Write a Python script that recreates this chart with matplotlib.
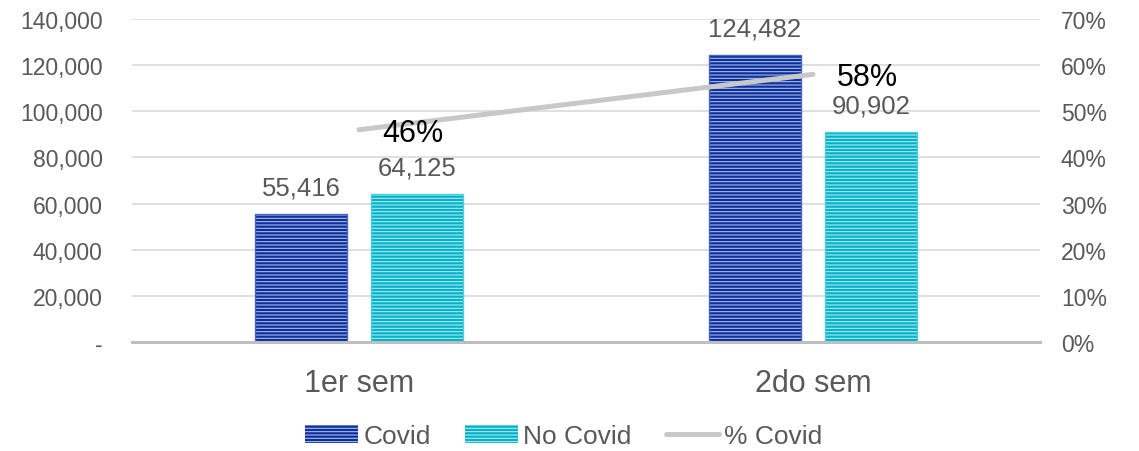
import matplotlib
matplotlib.use("Agg")
import matplotlib.pyplot as plt
import numpy as np
from matplotlib.patches import Patch
from matplotlib.lines import Line2D
from matplotlib.ticker import FuncFormatter

categories = ['1er sem', '2do sem']
covid = [55416, 124482]
no_covid = [64125, 90902]
pct_covid = [0.46, 0.58]

plt.rcParams['font.family'] = ['Liberation Sans', 'DejaVu Sans']
plt.rcParams['hatch.linewidth'] = 0.8

C_DARK, C_DARK_STRIPE = '#0E2F98', '#A6BCEF'
C_CYAN, C_CYAN_STRIPE = '#00B2CA', '#B0E8F0'
LINE_C = '#C8C8C8'
TXT = '#595959'
HATCH = '-----'

fig = plt.figure(figsize=(11.39, 4.52), dpi=100)
ax = fig.add_axes([132/1139, 1-343/452, (1040-132)/1139, (343-20)/452])

x = np.arange(len(categories))
w = 0.203
off = 0.128

ax.bar(x - off, covid, w, color=C_DARK, edgecolor=C_DARK_STRIPE, hatch=HATCH, linewidth=0, zorder=2)
ax.bar(x - off, covid, w, fill=False, edgecolor='#4A66C0', linewidth=1, zorder=3)
ax.bar(x + off, no_covid, w, color=C_CYAN, edgecolor=C_CYAN_STRIPE, hatch=HATCH, linewidth=0, zorder=2)
ax.bar(x + off, no_covid, w, fill=False, edgecolor='#50CCDC', linewidth=1, zorder=3)

for xi, v in zip(x - off, covid):
    ax.annotate(f'{v:,}', (xi, v), xytext=(0, 19), textcoords='offset points',
                ha='center', va='center', fontsize=18.5, color=TXT)
for xi, v in zip(x + off, no_covid):
    ax.annotate(f'{v:,}', (xi, v), xytext=(0, 19), textcoords='offset points',
                ha='center', va='center', fontsize=18.5, color=TXT)

ax.set_xlim(-0.5, 1.5)
ax.set_ylim(0, 140000)
ax.set_yticks(np.arange(0, 140001, 20000))
ax.yaxis.set_major_formatter(FuncFormatter(lambda v, p: '-' if v == 0 else f'{v:,.0f}'))
ax.set_xticks(x)
ax.set_xticklabels(categories)
ax.tick_params(axis='y', length=0, pad=21, labelsize=16.5, labelcolor=TXT)
ax.tick_params(axis='x', length=0, pad=19, labelsize=22, labelcolor=TXT)
ax.yaxis.grid(True, color='#D9D9D9', linewidth=1.2)
ax.set_axisbelow(True)
for s in ['top', 'left', 'right']:
    ax.spines[s].set_visible(False)
ax.spines['bottom'].set_color('#BFBFBF')
ax.spines['bottom'].set_linewidth(2.2)
ax.spines['bottom'].set_zorder(4)

ax2 = ax.twinx()
ax2.plot(x, pct_covid, color=LINE_C, linewidth=3.6, solid_capstyle='round')
ax2.set_ylim(0, 0.7)
ax2.set_yticks(np.arange(0, 0.71, 0.1))
ax2.yaxis.set_major_formatter(FuncFormatter(lambda v, p: f'{v:.0%}'))
ax2.tick_params(axis='y', length=0, pad=15, labelsize=16.5, labelcolor=TXT)
for s in ax2.spines.values():
    s.set_visible(False)
for xi, p in zip(x, pct_covid):
    ax2.annotate(f'{p:.0%}', (xi, p), xytext=(39, -2), textcoords='offset points',
                 ha='center', va='center', fontsize=22, color='black')

handles = [
    Patch(facecolor=C_DARK, edgecolor=C_DARK_STRIPE, hatch=HATCH, linewidth=0, label='Covid'),
    Patch(facecolor=C_CYAN, edgecolor=C_CYAN_STRIPE, hatch=HATCH, linewidth=0, label='No Covid'),
    Line2D([0], [0], color=LINE_C, linewidth=3.6, solid_capstyle='round', label='% Covid'),
]
leg = fig.legend(handles=handles, loc='center', bbox_to_anchor=(0.495, 0.033), ncol=3,
                 frameon=False, fontsize=19, handlelength=2.0, handletextpad=0.2,
                 columnspacing=1.3)
for t in leg.get_texts():
    t.set_color(TXT)

fig.savefig('out.png', dpi=100)
